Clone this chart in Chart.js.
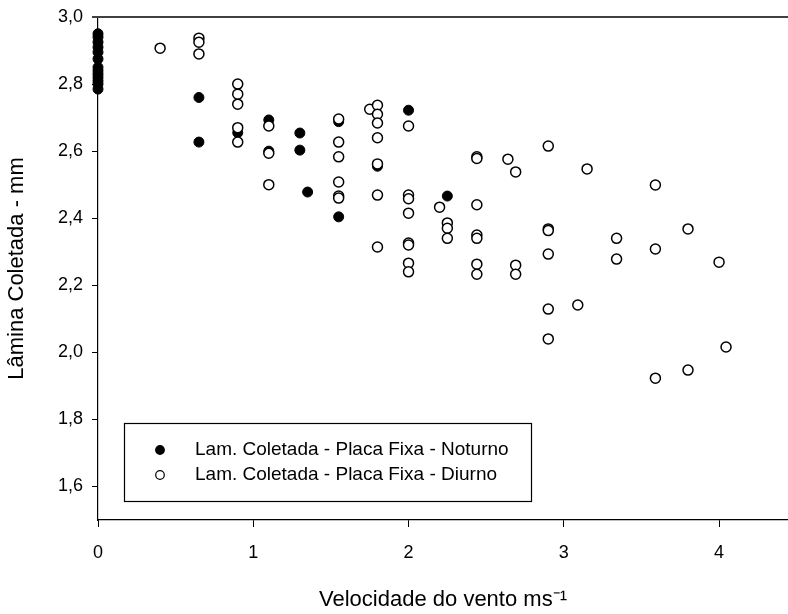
<!DOCTYPE html>
<html><head><meta charset="utf-8">
<script src="https://cdn.jsdelivr.net/npm/chart.js@4/dist/chart.umd.min.js"></script>
<style>html,body{margin:0;padding:0;background:#fff;overflow:hidden}#wrap{width:788px;height:614px}</style>
</head><body><div id="wrap"><canvas id="c" width="788" height="614"></canvas></div>
<script>
// ---- data ----
const noturnoX = [0,0,0,0,0,0,0,0,0,0,0,0,0, 0.65,0.65, 0.9, 1.1,1.1, 1.3,1.3, 1.35, 1.55,1.55, 1.8, 2.0, 2.25];
const noturnoY = [2.95,2.94,2.925,2.91,2.895,2.875,2.85,2.84,2.83,2.82,2.81,2.80,2.785, 2.76,2.627, 2.655, 2.693,2.60, 2.654,2.603, 2.478, 2.688,2.404, 2.555, 2.722, 2.466];

const diurnoX = [0.4, 0.65,0.65,0.65, 0.9,0.9,0.9,0.9,0.9, 1.1,1.1,1.1,
  1.55,1.55,1.55,1.55,1.55,1.55, 1.75, 1.8,1.8,1.8,1.8,1.8,1.8,1.8,
  2.0,2.0,2.0,2.0,2.0,2.0,2.0,2.0, 2.2, 2.25,2.25,2.25,
  2.44,2.44,2.44,2.44,2.44,2.44,2.44, 2.64, 2.69,2.69,2.69,
  2.9,2.9,2.9,2.9,2.9,2.9, 3.09, 3.15, 3.34,3.34, 3.59,3.59,3.59, 3.8,3.8, 4.0, 4.045];
const diurnoY = [2.907, 2.937,2.925,2.89, 2.80,2.77,2.74,2.67,2.627, 2.675,2.594,2.50,
  2.696,2.627,2.583,2.508,2.466,2.46, 2.725, 2.737,2.71,2.684,2.64,2.562,2.469,2.314,
  2.675,2.469,2.458,2.415,2.326,2.32,2.266,2.24, 2.433, 2.386,2.37,2.34,
  2.583,2.578,2.44,2.35,2.34,2.263,2.233, 2.576, 2.538,2.26,2.233,
  2.615,2.368,2.363,2.293,2.129,2.04, 2.141, 2.547, 2.34,2.278, 2.499,2.308,1.923, 2.368,1.947, 2.269, 2.016];

const xTicks = [0,1,2,3,4];
const yTicks = [1.6,1.8,2.0,2.2,2.4,2.6,2.8,3.0];
const seriesLabels = ['Lam. Coletada - Placa Fixa - Noturno','Lam. Coletada - Placa Fixa - Diurno'];
const xTitle = 'Velocidade do vento ms\u207B\u00B9';
const yTitle = 'L\u00E2mina Coletada - mm';

const FONT = "'Liberation Sans', Arial, Helvetica, sans-serif";
const toPts = (xs, ys) => xs.map((x, i) => ({x: x, y: ys[i]}));

const framePlugin = {
  id: 'frame',
  afterDraw(chart) {
    const ctx = chart.ctx, a = chart.chartArea;
    ctx.save();
    // top frame line
    ctx.strokeStyle = '#404040';
    ctx.lineWidth = 2;
    ctx.beginPath();
    ctx.moveTo(a.left - 6, a.top);
    ctx.lineTo(chart.width, a.top);
    ctx.stroke();
    // legend box
    const bx = 124.5, by = 423.5, bw = 407, bh = 78;
    ctx.strokeStyle = '#000';
    ctx.lineWidth = 1.2;
    ctx.fillStyle = '#fff';
    ctx.fillRect(bx, by, bw, bh);
    ctx.strokeRect(bx, by, bw, bh);
    chart.data.datasets.forEach((ds, i) => {
      const cy = 450 + i * 25;
      ctx.beginPath();
      ctx.arc(160, cy, 4.3, 0, Math.PI * 2);
      ctx.fillStyle = ds.backgroundColor;
      ctx.fill();
      ctx.lineWidth = 1.2;
      ctx.strokeStyle = '#000';
      ctx.stroke();
      ctx.fillStyle = '#000';
      ctx.font = '19px ' + FONT;
      ctx.textBaseline = 'middle';
      ctx.textAlign = 'left';
      ctx.fillText(ds.label, 195, cy);
    });
    ctx.restore();
  }
};

new Chart(document.getElementById('c'), {
  type: 'scatter',
  data: {
    datasets: [
      {label: seriesLabels[0], data: toPts(noturnoX, noturnoY), backgroundColor: '#000', borderColor: '#000',
       borderWidth: 1, pointRadius: 5, pointHoverRadius: 5, order: 1, clip: false},
      {label: seriesLabels[1], data: toPts(diurnoX, diurnoY), backgroundColor: '#fff', borderColor: '#000',
       borderWidth: 1.5, pointRadius: 5, pointHoverRadius: 5, order: 0, clip: false}
    ]
  },
  options: {
    responsive: false,
    animation: false,
    devicePixelRatio: 1,
    layout: {autoPadding: false, padding: {top: 17, right: 0, left: 0, bottom: 0}},
    plugins: {legend: {display: false}, tooltip: {enabled: false}},
    scales: {
      x: {
        type: 'linear', min: 0, max: 4.444,
        afterFit(s) { s.height = 94; s.paddingRight = 0; s.paddingLeft = 0; },
        afterBuildTicks(s) { s.ticks = xTicks.map(v => ({value: v})); },
        grid: {display: true, drawOnChartArea: false, drawTicks: true, tickLength: 7, color: '#000', lineWidth: 1},
        border: {display: true, color: '#000', width: 1.2},
        ticks: {color: '#000', font: {family: FONT, size: 18}, padding: 15, maxRotation: 0,
                callback: v => String(v)},
        title: {display: true, text: xTitle, color: '#000', font: {family: FONT, size: 22, lineHeight: 1.2}, padding: {top: 0, bottom: 1}}
      },
      y: {
        type: 'linear', min: 1.5, max: 3.0,
        afterFit(s) { s.width = 98; s.paddingTop = 0; s.paddingBottom = 0; },
        afterBuildTicks(s) { s.ticks = yTicks.map(v => ({value: v})); },
        grid: {display: true, drawOnChartArea: false, drawTicks: true, tickLength: 6, color: '#000', lineWidth: 1},
        border: {display: true, color: '#000', width: 1.2},
        ticks: {color: '#000', font: {family: FONT, size: 18}, padding: 9,
                callback: v => Number(v).toFixed(1).replace('.', ',')},
        title: {display: true, text: yTitle, color: '#000', font: {family: FONT, size: 22, lineHeight: 1.2}, padding: {top: 4, bottom: 0}}
      }
    }
  },
  plugins: [framePlugin]
});
</script>
</body></html>
